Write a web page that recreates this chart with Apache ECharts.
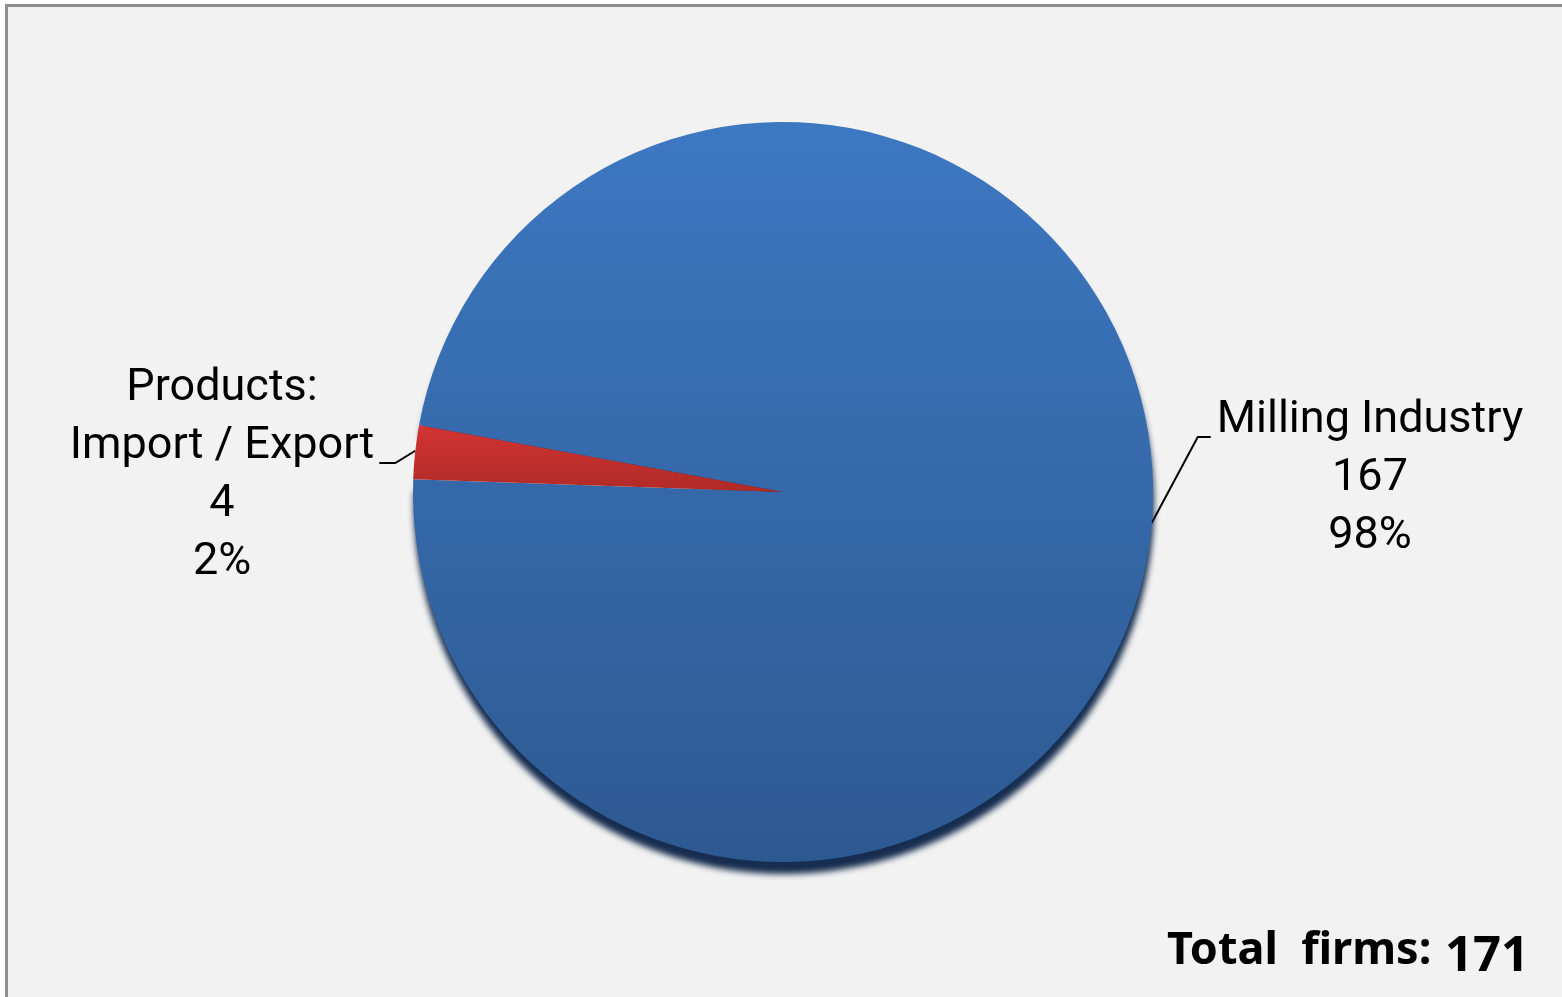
<!DOCTYPE html>
<html>
<head>
<meta charset="utf-8">
<title>Firms by activity</title>
<script src="https://cdn.jsdelivr.net/npm/echarts@6/dist/echarts.min.js"></script>
<style>
  html, body { margin: 0; padding: 0; background: #ffffff; overflow: hidden; }
  #frame {
    position: absolute; left: 5px; top: 4px; width: 1600px; height: 1050px;
    background: #f2f2f2; border-left: 3px solid #8e8e8e; border-top: 3px solid #8e8e8e;
  }
  #chart { position: absolute; left: 0; top: 0; width: 1562px; height: 997px; }
</style>
</head>
<body>
<div id="frame"></div>
<div id="chart"></div>
<script>
// Data
const categories = ['Milling Industry', 'Products:\nImport / Export'];
const firmCounts = [167, 4];
const totalText = 'Total  firms:';

const total = firmCounts.reduce((a, b) => a + b, 0);

// pie geometry
const pieCenter = [783, 492];
const pieRadius = 370;
const labelFont = '"Liberation Sans Narrow", Roboto, "Liberation Sans", sans-serif';
const lineH = 58;

// where each label block sits and where its leader line meets the pie
const labelSpots = [
    { x: 1370, y: 479, edgeAngle: -4.8, line: 0, side: 'right' },
    { x: 222, y: 476, edgeAngle: 173.6, line: 1, side: 'left' }
];

function edgePoint(deg) {
    const a = deg * Math.PI / 180;
    return [pieCenter[0] + pieRadius * Math.cos(a), pieCenter[1] - pieRadius * Math.sin(a)];
}

const sliceStyles = [
    {
        color: new echarts.graphic.LinearGradient(0, 0, 0, 1, [
            { offset: 0, color: '#3d78c2' },
            { offset: 1, color: '#2d5991' }
        ]),
        shadowColor: 'rgba(10, 34, 70, 0.95)',
        shadowBlur: 6,
        shadowOffsetX: 1,
        shadowOffsetY: 12
    },
    {
        color: new echarts.graphic.LinearGradient(0, 0, 0, 1, [
            { offset: 0, color: '#d23433' },
            { offset: 1, color: '#b02a26' }
        ])
    }
];

const chart = echarts.init(document.getElementById('chart'));

const option = {
    backgroundColor: 'transparent',
    animation: false,
    graphic: [
        {
            type: 'text',
            left: 1167,
            top: 929,
            style: {
                text: totalText,
                font: 'bold 45px "Noto Sans", "Open Sans", sans-serif',
                fill: '#000000'
            }
        },
        {
            type: 'text',
            left: 1445,
            top: 933,
            style: {
                text: String(total),
                font: 'bold 49px "Noto Sans", "Open Sans", sans-serif',
                fill: '#000000'
            }
        }
    ],
    series: [{
        type: 'pie',
        center: pieCenter,
        radius: pieRadius,
        startAngle: 169.6,
        clockwise: true,
        silent: true,
        data: categories.map((name, i) => ({
            name: name,
            value: firmCounts[i],
            itemStyle: sliceStyles[i]
        })),
        label: {
            show: true,
            position: 'outside',
            fontFamily: labelFont,
            fontSize: 45,
            lineHeight: lineH,
            color: '#000000',
            align: 'center',
            formatter: function (p) {
                return p.name + '\n' + p.value + '\n' + Math.round(p.percent) + '%';
            }
        },
        labelLine: {
            show: true,
            lineStyle: { color: '#000000', width: 2 }
        },
        labelLayout: function (params) {
            const spot = labelSpots[params.dataIndex];
            const r = params.labelRect;
            const top = spot.y - r.height / 2;
            const endY = top + spot.line * lineH + 45;
            const start = edgePoint(spot.edgeAngle);
            let end, bend;
            if (spot.side === 'left') {
                end = [spot.x + r.width / 2 + 5, endY];
                bend = [end[0] + 16, endY];
            } else {
                end = [spot.x - r.width / 2 - 6, endY];
                bend = [end[0] - 13, endY];
            }
            return {
                x: spot.x,
                y: spot.y,
                align: 'center',
                verticalAlign: 'middle',
                labelLinePoints: [start, bend, end]
            };
        }
    }]
};

chart.setOption(option);
</script>
</body>
</html>
